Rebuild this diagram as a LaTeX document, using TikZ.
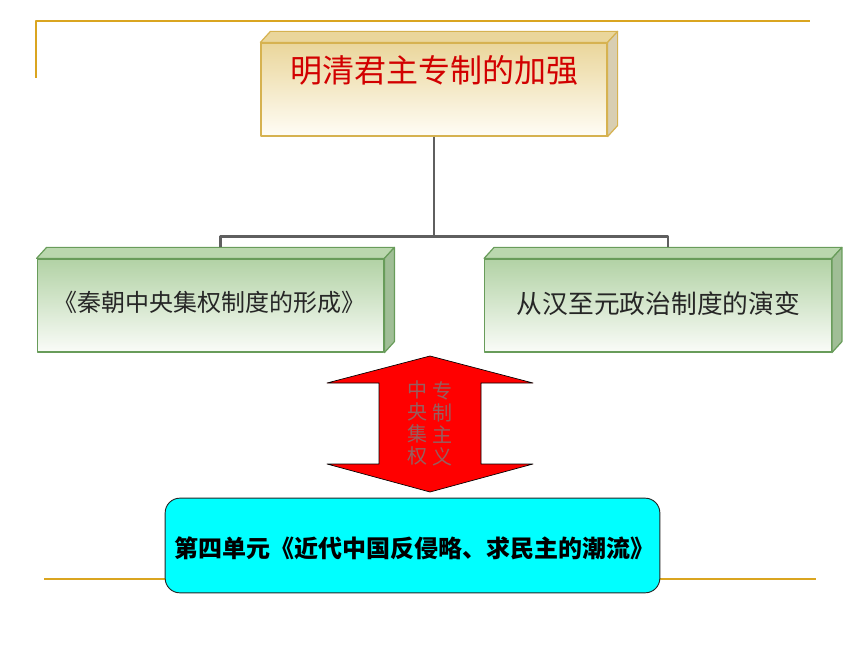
\documentclass[tikz,border=0pt]{standalone}
\usepackage{fontspec}
\newfontfamily\cjk{Noto Sans CJK SC}
\usetikzlibrary{calc,positioning}
\definecolor{rulegold}{RGB}{218,165,32}
\definecolor{titletop}{RGB}{234,214,155}
\definecolor{titlebot}{RGB}{255,253,246}
\definecolor{titleedge}{RGB}{214,178,80}
\definecolor{titleside}{RGB}{216,206,178}
\definecolor{titlered}{RGB}{210,0,0}
\definecolor{greentop}{RGB}{178,210,165}
\definecolor{greenbot}{RGB}{250,252,248}
\definecolor{greenedge}{RGB}{104,156,90}
\definecolor{greenside}{RGB}{160,190,150}
\definecolor{linkgray}{RGB}{95,95,95}
\definecolor{unitcyan}{RGB}{0,255,255}
\definecolor{arrowtext}{RGB}{150,95,95}
\def\slab[#1][#2](#3){\draw[#1] (#3.north west) -- ++(10,-11) -- ($(#3.north east)+(10,-11)$) -- (#3.north east) -- cycle;
	\draw[#2] (#3.north east) -- ++(10,-11) -- ($(#3.south east)+(10,-11)$) -- (#3.south east) -- cycle;}
\tikzset{
	titlebox/.style={draw=titleedge, line width=0.9pt, top color=titletop, bottom color=titlebot, minimum width=259.5pt, minimum height=69.75pt, inner sep=0pt},
	greenbox/.style={draw=greenedge, line width=0.9pt, top color=greentop, bottom color=greenbot, minimum width=260pt, minimum height=69.75pt, inner sep=0pt},
	unitbox/.style={draw=black!85, line width=0.7pt, fill=unitcyan, rounded corners=11pt, minimum width=371pt, minimum height=71pt, inner sep=0pt},
	link/.style={draw=linkgray, line width=1.9pt},
	goldrule/.style={draw=rulegold, line width=1.5pt}
}
\begin{document}
\begin{tikzpicture}[x=0.75pt, y=-0.75pt, line join=round]
			%%%%% START %%%%%
			\useasboundingbox (0,0) rectangle (860,645);
			
			\draw[goldrule] (36,78) -- (36,21) -- (810,21);
			\draw[goldrule] (44,579) -- (816,579);
			
			\node[titlebox] (ming) at (434,89.5) {};
			\slab[draw=titleedge, line width=0.9pt, fill=titletop][draw=titleedge, line width=0.9pt, fill=titleside](ming)
			\node[text=titlered, font=\cjk\fontsize{24pt}{28pt}\selectfont] (mingtext) at (434,70) {明清君主专制的加强};
			
			\node[greenbox] (qin) at (210.5,305.5) {};
			\slab[draw=greenedge, line width=0.9pt, fill=greentop!90][draw=greenedge, line width=0.9pt, fill=greenside](qin)
			\node[text=black!85, font=\cjk\fontsize{18pt}{22pt}\selectfont] (qintext) at (209.5,302) {《秦朝中央集权制度的形成》};
			
			\node[greenbox] (han) at (658,305.5) {};
			\slab[draw=greenedge, line width=0.9pt, fill=greentop!90][draw=greenedge, line width=0.9pt, fill=greenside](han)
			\node[text=black!85, font=\cjk\fontsize{19.3pt}{23pt}\selectfont] (hantext) at (658.5,304) {从汉至元政治制度的演变};
			
			\coordinate (fork) at ($(ming.south)+(0,100)$);
			\coordinate (qintop) at ($(qin.north)+(10,-11)$);
			\coordinate (hantop) at ($(han.north)+(10,-11)$);
			\draw[link] (ming.south) -- (fork);
			\draw[link] (qintop) |- (fork) -| (hantop);
			
			\draw[fill=red, draw=black, line width=0.5pt] (430,356) -- (533,383) -- (481,383) -- (481,464) -- (533,464) -- (430,492) -- (327,464) -- (379,464) -- (379,383) -- (327,383) -- cycle;
			\node[text=arrowtext, align=center, font=\cjk\fontsize{15pt}{16.5pt}\selectfont] (central) at (417,423) {中\\央\\集\\权};
			\node[text=arrowtext, align=center, font=\cjk\fontsize{15pt}{16.5pt}\selectfont] (autocracy) at (442,424) {专\\制\\主\\义};
			
			\node[unitbox] (unit) at (412.5,545.5) {};
			\node[font=\cjk\bfseries\fontsize{18pt}{22pt}\selectfont] (unittext) at (414,548) {第四单元《近代中国反侵略、求民主的潮流》};
			
			%%%%% END %%%%%
		\end{tikzpicture}
\end{document}
